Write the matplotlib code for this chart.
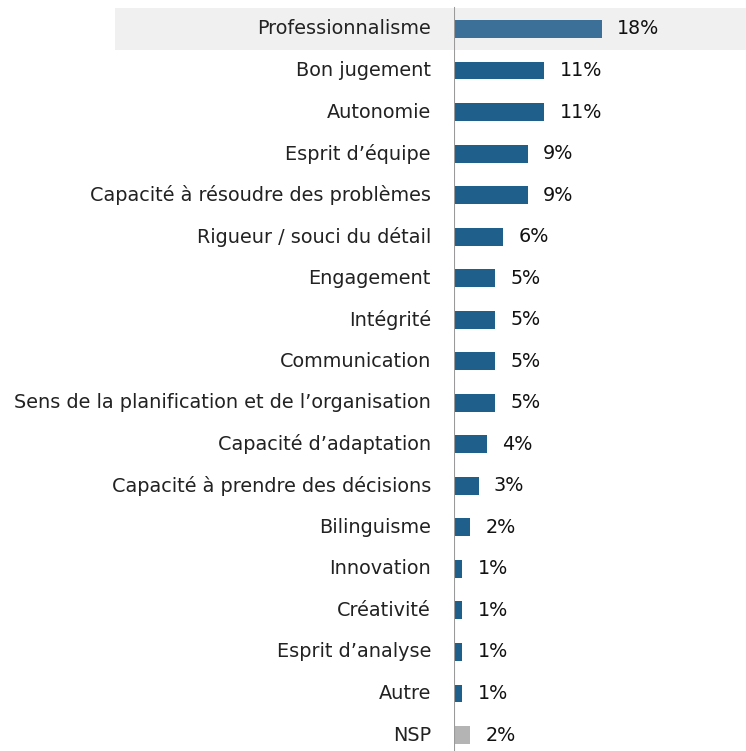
import matplotlib.pyplot as plt
from matplotlib.patches import Rectangle

categories = [
    "Professionnalisme", "Bon jugement", "Autonomie", "Esprit d\u2019équipe",
    "Capacité à résoudre des problèmes", "Rigueur / souci du détail",
    "Engagement", "Intégrité", "Communication",
    "Sens de la planification et de l\u2019organisation",
    "Capacité d\u2019adaptation", "Capacité à prendre des décisions",
    "Bilinguisme", "Innovation", "Créativité", "Esprit d\u2019analyse",
    "Autre", "NSP",
]
values = [18, 11, 11, 9, 9, 6, 5, 5, 5, 5, 4, 3, 2, 1, 1, 1, 1, 2]
labels = ["18%", "11%", "11%", "9%", "9%", "6%", "5%", "5%", "5%", "5%",
          "4%", "3%", "2%", "1%", "1%", "1%", "1%", "2%"]

colors = ["#3d7099"] + ["#1f5f8b"] * 16 + ["#b4b4b4"]

W, H = 746, 751
px_per_pct = 8.2
x0_px = 454
fig = plt.figure(figsize=(W / 100, H / 100), dpi=100)
ax = fig.add_axes([x0_px / W, 0, 1 - x0_px / W, 1])

row_h = 41.53
top_c = 29
ax.set_xlim(0, (W - x0_px) / px_per_pct)
ax.set_ylim((H - top_c) / row_h, -top_c / row_h)
ax.axis("off")

# highlight band behind first row
band = Rectangle(((115 - x0_px) / px_per_pct, -0.51), (W - 115) / px_per_pct, 1.02,
                 facecolor="#f0f0f0", edgecolor="none", zorder=0, clip_on=False)
ax.add_patch(band)

y = list(range(len(categories)))
ax.barh(y, values, height=0.43, color=colors, zorder=2)

ax.plot([0, 0], [-0.51, (H - top_c) / row_h], color="#9a9a9a", lw=1.5, zorder=3)

for i, (cat, v, lab) in enumerate(zip(categories, values, labels)):
    ax.text(-23 / px_per_pct, i, cat, ha="right", va="center", fontsize=13.9,
            color="#222222", clip_on=False)
    ax.annotate(lab, (v, i), xytext=(11, 0), textcoords="offset points",
                ha="left", va="center", fontsize=13.8, color="#111111")

fig.savefig("out.png", dpi=100)
